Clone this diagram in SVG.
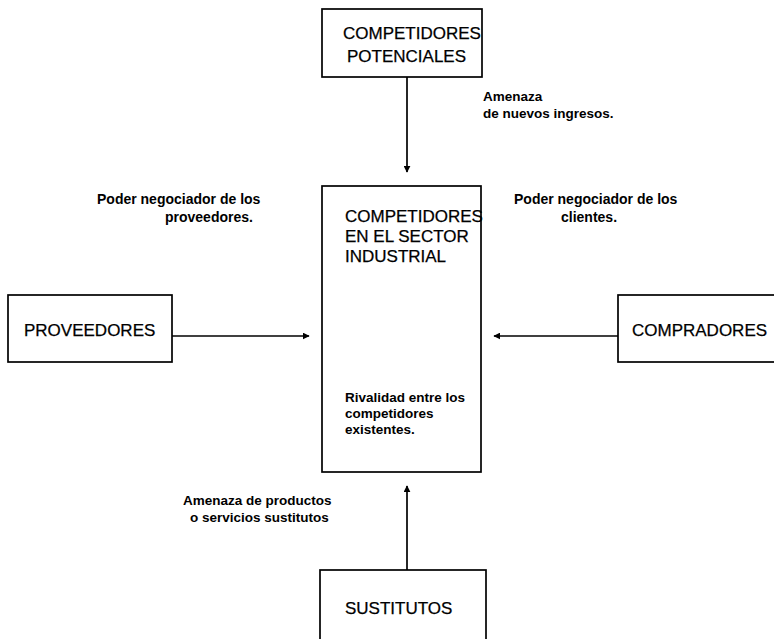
<svg xmlns="http://www.w3.org/2000/svg" width="774" height="639" viewBox="0 0 774 639">
<defs>
<marker id="ah" viewBox="0 0 10 10" refX="9" refY="5" markerWidth="7" markerHeight="7" markerUnits="userSpaceOnUse" orient="auto">
<path d="M0,0 L10,5 L0,10 z" fill="#000"/>
</marker>
<style>
.box{fill:#fff;stroke:#000;stroke-width:1.7}
.t{font-family:"Liberation Sans",Arial,sans-serif;font-size:17px;fill:#000;stroke:#000;stroke-width:0.25}
.l{font-family:"Liberation Sans",Arial,sans-serif;font-size:13.5px;font-weight:bold;fill:#000}
.p{font-size:14px}
.c{stroke:#000;stroke-width:1.7;fill:none;marker-end:url(#ah)}
</style>
</defs>
<rect width="774" height="639" fill="#fff"/>
<g id="connectors">
<line class="c" x1="407" y1="77" x2="407" y2="172"/>
<line class="c" x1="172" y1="336" x2="309" y2="336"/>
<line class="c" x1="618" y1="336" x2="494" y2="336"/>
<line class="c" x1="407" y1="570" x2="407" y2="486"/>
</g>
<g id="potenciales">
<rect class="box" x="322" y="9" width="160" height="68"/>
<text class="t" x="343" y="39">COMPETIDORES</text>
<text class="t" x="347" y="62">POTENCIALES</text>
</g>
<g id="sector">
<rect class="box" x="322" y="186" width="159" height="286"/>
<text class="t" x="345" y="222">COMPETIDORES</text>
<text class="t" x="345" y="242">EN EL SECTOR</text>
<text class="t" x="345" y="262">INDUSTRIAL</text>
<text class="l" x="345" y="402">Rivalidad entre los</text>
<text class="l" x="345" y="418">competidores</text>
<text class="l" x="345" y="434">existentes.</text>
</g>
<g id="proveedores">
<rect class="box" x="8" y="295" width="164" height="67"/>
<text class="t" x="24" y="336">PROVEEDORES</text>
</g>
<g id="compradores">
<rect class="box" x="618" y="295" width="170" height="67"/>
<text class="t" x="632" y="336">COMPRADORES</text>
</g>
<g id="sustitutos">
<rect class="box" x="320" y="570" width="166" height="80"/>
<text class="t" x="345" y="614">SUSTITUTOS</text>
</g>
<g id="labels">
<text class="l" x="483" y="101">Amenaza</text>
<text class="l" x="483" y="118">de nuevos ingresos.</text>
<text class="l p" x="97" y="204">Poder negociador de los</text>
<text class="l p" x="165" y="222">proveedores.</text>
<text class="l p" x="514" y="204">Poder negociador de los</text>
<text class="l p" x="561" y="222">clientes.</text>
<text class="l" x="183" y="505">Amenaza de productos</text>
<text class="l" x="190" y="522">o servicios sustitutos</text>
</g>
</svg>
